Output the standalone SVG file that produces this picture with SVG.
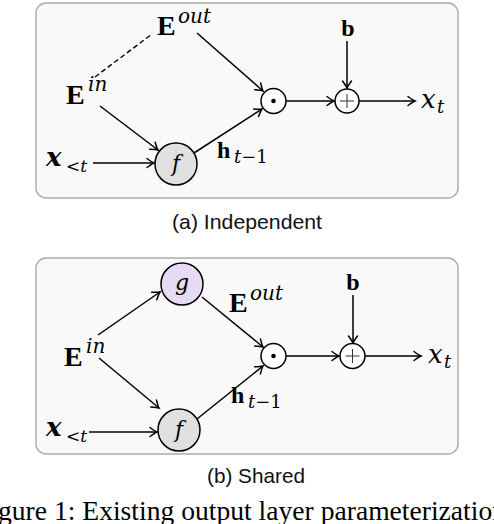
<svg xmlns="http://www.w3.org/2000/svg" width="494" height="524" viewBox="0 0 494 524">
<defs>
<marker id="arr" markerUnits="userSpaceOnUse" markerWidth="14" markerHeight="12" refX="11" refY="6" orient="auto" overflow="visible">
<path d="M4,1.5 Q9,5.2 11,6 Q9,6.8 4,10.5" fill="none" stroke="#000" stroke-width="1.5" stroke-linecap="round"/>
</marker>
<style>
.panel{fill:#f9f9f9;stroke:#aaaaaa;stroke-width:1.4}
.ar{stroke:#000;stroke-width:1.5;fill:none;marker-end:url(#arr)}
.dash{stroke:#000;stroke-width:1.4;fill:none;stroke-dasharray:5,3}
.circ{stroke:#000;stroke-width:1.5}
.op{fill:#fff;stroke:#000;stroke-width:1.5}
.bold{font-family:"Liberation Serif","DejaVu Serif",serif;font-weight:bold;fill:#000}
.it{font-family:"DejaVu Serif","Liberation Serif",serif;font-style:italic;fill:#000}
.rm{font-family:"Liberation Serif","DejaVu Serif",serif;fill:#000}
.dv{font-family:"DejaVu Serif","Liberation Serif",serif;fill:#000}
.bi{font-family:"DejaVu Serif","Liberation Serif",serif;font-style:italic;font-weight:bold;fill:#000}
.cap{font-family:"Liberation Sans",Arial,sans-serif;font-size:21px;fill:#111}
</style>
</defs>
<rect class="panel" x="36" y="3" width="422" height="195" rx="10"/>
<rect class="panel" x="36" y="258" width="422" height="196" rx="10"/>

<g id="connectors">
<!-- panel a -->
<line class="dash" x1="95" y1="77" x2="152" y2="34"/>
<line class="ar" x1="100" y1="106" x2="158" y2="150"/>
<line class="ar" x1="93" y1="163" x2="154" y2="163"/>
<line class="ar" x1="194" y1="153" x2="262" y2="109"/>
<line class="ar" x1="197" y1="33" x2="263" y2="91"/>
<line class="ar" x1="286" y1="101" x2="334" y2="101"/>
<line class="ar" x1="347" y1="41" x2="347" y2="88"/>
<line class="ar" x1="359" y1="101" x2="415" y2="101"/>
<!-- panel b -->
<line class="ar" x1="98" y1="335" x2="160" y2="292"/>
<line class="ar" x1="99" y1="358" x2="159" y2="408"/>
<line class="ar" x1="89" y1="432" x2="157" y2="432"/>
<line class="ar" x1="202" y1="297" x2="263" y2="347"/>
<line class="ar" x1="197" y1="419" x2="263" y2="366"/>
<line class="ar" x1="286" y1="356" x2="339" y2="356"/>
<line class="ar" x1="353" y1="295" x2="353" y2="343"/>
<line class="ar" x1="365" y1="356" x2="421" y2="356"/>
</g>

<!-- panel a nodes -->
<g id="a-Eout"><text class="bold" x="157" y="35" font-size="28">E</text><text class="it" x="178" y="23" font-size="20">out</text></g>
<g id="a-Ein"><text class="bold" x="66" y="104" font-size="28">E</text><text class="it" x="88" y="91" font-size="20">in</text></g>
<g id="a-x"><text class="bi" x="46" y="166" font-size="26">x</text><text class="dv" x="66" y="172" font-size="17">&lt;<tspan font-style="italic">t</tspan></text></g>
<g id="a-f"><circle class="circ" cx="176" cy="164" r="21" fill="#e0e0e0"/><text class="it" x="176" y="171" font-size="22" text-anchor="middle">f</text></g>
<g id="a-h"><text class="bold" x="217" y="158" font-size="24">h</text><text class="dv" x="234" y="163" font-size="18"><tspan font-style="italic">t</tspan>−1</text></g>
<g id="a-dot"><circle class="op" cx="273.5" cy="101" r="12.5"/><circle cx="273.5" cy="101" r="2.3" fill="#000"/></g>
<g id="a-plus"><circle class="op" cx="347" cy="101" r="12"/><path d="M340,101 H354 M347,94 V108" stroke="#333" stroke-width="1"/></g>
<g id="a-b"><text class="bold" x="348" y="36" font-size="24" text-anchor="middle">b</text></g>
<g id="a-xt"><text class="it" x="421" y="108" font-size="26">x</text><text class="it" x="437" y="113" font-size="18">t</text></g>

<!-- panel b nodes -->
<g id="b-g"><circle class="circ" cx="182" cy="284" r="21" fill="#e6daf5"/><text class="it" x="182" y="290" font-size="22" text-anchor="middle">g</text></g>
<g id="b-f"><circle class="circ" cx="179" cy="430" r="21" fill="#e0e0e0"/><text class="it" x="179" y="437" font-size="22" text-anchor="middle">f</text></g>
<g id="b-Ein"><text class="bold" x="64" y="366" font-size="28">E</text><text class="it" x="86" y="353" font-size="20">in</text></g>
<g id="b-x"><text class="bi" x="46" y="436" font-size="26">x</text><text class="dv" x="66" y="442" font-size="17">&lt;<tspan font-style="italic">t</tspan></text></g>
<g id="b-Eout"><text class="bold" x="229" y="312" font-size="28">E</text><text class="it" x="250" y="300" font-size="20">out</text></g>
<g id="b-h"><text class="bold" x="231" y="403" font-size="24">h</text><text class="dv" x="248" y="408" font-size="18"><tspan font-style="italic">t</tspan>−1</text></g>
<g id="b-dot"><circle class="op" cx="273.5" cy="356" r="12.5"/><circle cx="273.5" cy="356" r="2.3" fill="#000"/></g>
<g id="b-plus"><circle class="op" cx="352.5" cy="356" r="12.5"/><path d="M345.5,356 H359.5 M352.5,349 V363" stroke="#333" stroke-width="1"/></g>
<g id="b-b"><text class="bold" x="353" y="290" font-size="24" text-anchor="middle">b</text></g>
<g id="b-xt"><text class="it" x="428" y="363" font-size="26">x</text><text class="it" x="444" y="368" font-size="18">t</text></g>

<text class="cap" x="172" y="229" textLength="150" lengthAdjust="spacingAndGlyphs">(a) Independent</text>
<text class="cap" x="207" y="483" textLength="98" lengthAdjust="spacingAndGlyphs">(b) Shared</text>
<text class="rm" x="-25" y="520" font-size="27.6">Figure 1: Existing output layer parameterization</text>
</svg>
